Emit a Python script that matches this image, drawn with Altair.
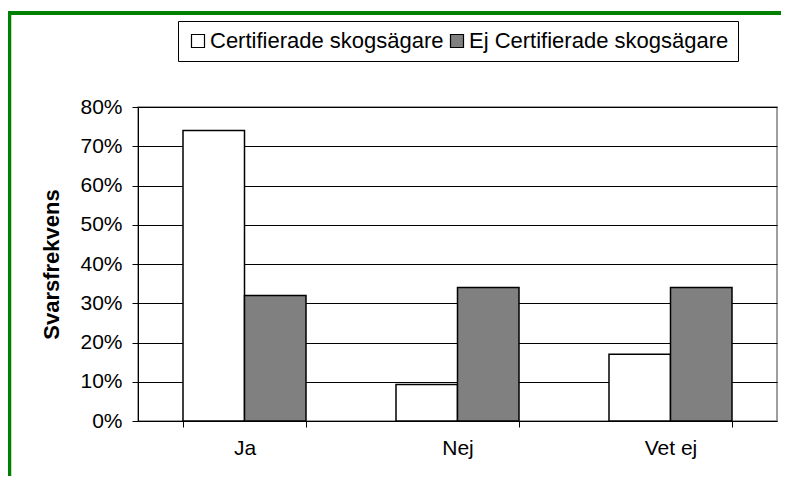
import altair as alt
import pandas as pd

categories = ["Ja", "Nej", "Vet ej"]
series_names = ["Certifierade skogsägare", "Ej Certifierade skogsägare"]
certifierade = [0.74, 0.093, 0.17]
ej_certifierade = [0.32, 0.34, 0.34]
y_ticks = [0, 0.1, 0.2, 0.3, 0.4, 0.5, 0.6, 0.7, 0.8]
bar_colors = ["#ffffff", "#808080"]

rows = []
for c, a, b in zip(categories, certifierade, ej_certifierade):
    rows.append({"kategori": c, "serie": series_names[0], "andel": a})
    rows.append({"kategori": c, "serie": series_names[1], "andel": b})
df = pd.DataFrame(rows)

FONT = "Liberation Sans"

bars = alt.Chart(df).mark_bar(stroke="black", strokeWidth=1.5).encode(
    x=alt.X("kategori:N", sort=categories,
            scale=alt.Scale(paddingInner=0.4225, paddingOuter=0.21125),
            axis=alt.Axis(title=None, labelAngle=0, tickBand="extent", tickSize=6,
                          tickColor="black", domainColor="black", labelFontSize=21,
                          labelFont=FONT, labelColor="black", labelPadding=10, grid=False)),
    xOffset=alt.XOffset("serie:N", sort=series_names),
    y=alt.Y("andel:Q", scale=alt.Scale(domain=[0, 0.8], nice=False),
            axis=alt.Axis(title="Svarsfrekvens", values=y_ticks, format=".0%",
                          tickSize=6, tickColor="black", domainColor="black",
                          gridColor="black", gridWidth=1, labelFontSize=21,
                          labelFont=FONT, labelColor="black", labelPadding=10,
                          titleFont=FONT, titleFontSize=22, titleFontWeight="bold",
                          titleColor="black", titlePadding=16)),
    color=alt.Color("serie:N", sort=series_names,
                    scale=alt.Scale(domain=series_names, range=bar_colors),
                    legend=alt.Legend(title=None, orient="none", legendX=40, legendY=-86,
                                      direction="horizontal", symbolType="square",
                                      symbolSize=169, symbolStrokeColor="black",
                                      symbolStrokeWidth=1.2, labelFont=FONT,
                                      labelFontSize=22, labelColor="black",
                                      labelOffset=1, columnPadding=2, padding=9,
                                      fillColor="white", strokeColor="black",
                                      labelLimit=400)),
)

frame_data = alt.Data(values=[{"k": 1}])
green_top = alt.Chart(frame_data).mark_rule(color="#008000", strokeWidth=4).encode(
    x=alt.value(-130), x2=alt.value(800), y=alt.value(-94))
green_left = alt.Chart(frame_data).mark_rule(color="#008000", strokeWidth=3.5).encode(
    x=alt.value(-128.5), y=alt.value(-96), y2=alt.value(500))

chart = alt.layer(bars, green_top, green_left).properties(
    width=639, height=314,
    autosize=alt.AutoSizeParams(type="none"),
    padding={"left": 130, "top": 99, "right": 4, "bottom": 55},
    background="white",
).configure_view(stroke="#808080", strokeWidth=1.5)

chart.save("out.html", embed_options={"renderer": "svg", "actions": False})
